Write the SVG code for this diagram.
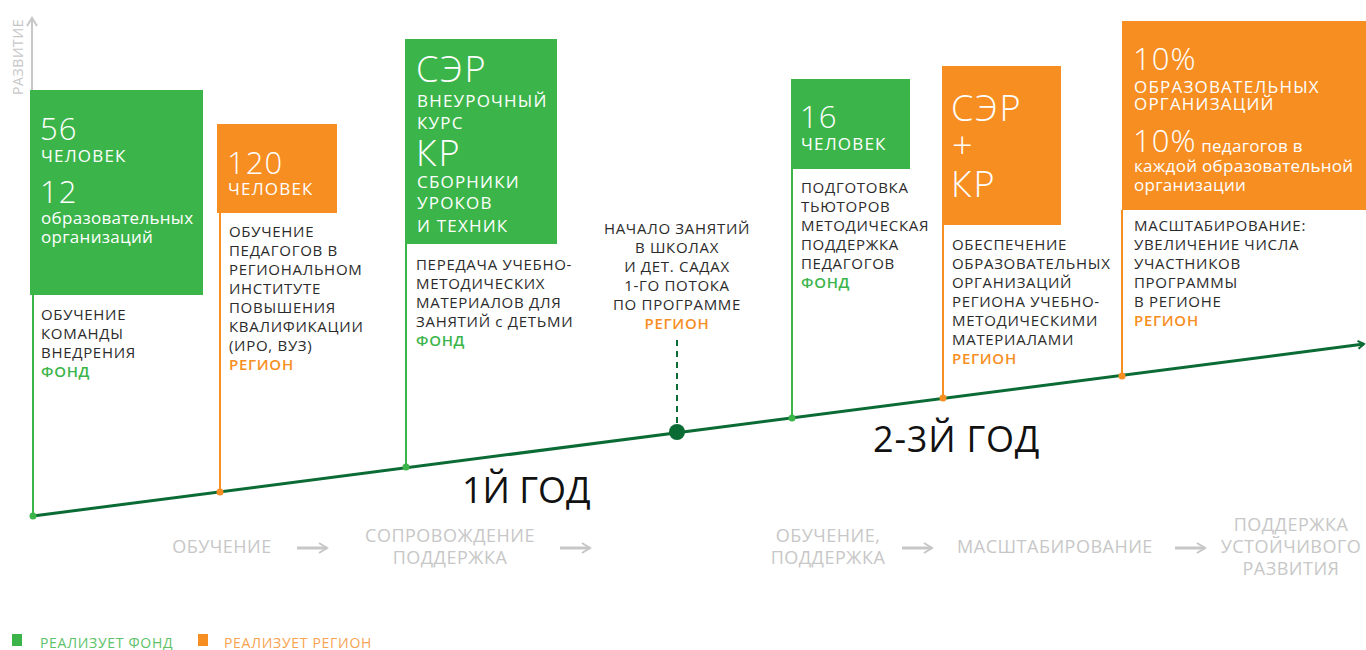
<svg xmlns="http://www.w3.org/2000/svg" width="1366" height="650" viewBox="0 0 1366 650">
<style>
text{font-family:"Open Sans","Noto Sans",sans-serif;}
.w{fill:#ffffff;}
.big{font-size:31px;font-weight:300;letter-spacing:1px;}
.huge{font-size:36px;font-weight:300;letter-spacing:2px;}
.mid{font-size:17px;font-weight:400;letter-spacing:0.3px;}
.mu{font-size:17px;font-weight:400;letter-spacing:1.2px;}
.d{fill:#2b2b2b;font-size:15px;font-weight:400;letter-spacing:0.7px;}
.fg{fill:#3bb54a;font-size:15px;font-weight:600;letter-spacing:0.7px;}
.fo{fill:#f68e22;font-size:15px;font-weight:600;letter-spacing:0.7px;}
.g{fill:#c7c7c7;font-size:18px;font-weight:400;letter-spacing:0.5px;}
.yr{fill:#111111;font-size:36px;font-weight:400;}
.gr{fill:#3bb54a;}
.or{fill:#f68e22;}
.lg{stroke:#3bb54a;stroke-width:2;}
.lo{stroke:#f68e22;stroke-width:2;}
</style>
<defs>
<marker id="ah" markerWidth="10" markerHeight="10" refX="7" refY="5" orient="auto" markerUnits="userSpaceOnUse">
<path d="M1,1 L7,5 L1,9" fill="none" stroke="#0b6b35" stroke-width="2"/>
</marker>
<marker id="ga" markerWidth="12" markerHeight="12" refX="9" refY="6" orient="auto" markerUnits="userSpaceOnUse">
<path d="M1,1 L9,6 L1,11" fill="none" stroke="#c7c7c7" stroke-width="2"/>
</marker>
</defs>

<g id="axis">
<line x1="32" y1="92" x2="32" y2="18" stroke="#c7c7c7" stroke-width="2" marker-end="url(#ga)"/>
<text transform="translate(23,95) rotate(-90)" fill="#c7c7c7" font-size="14" letter-spacing="0.6">РАЗВИТИЕ</text>
</g>

<g id="connectors">
<line x1="33" y1="516" x2="1364" y2="344" stroke="#0b6b35" stroke-width="3" marker-end="url(#ah)"/>
<line class="lg" x1="33" y1="295" x2="33" y2="516"/>
<line class="lo" x1="220" y1="213" x2="220" y2="492"/>
<line class="lg" x1="406" y1="244" x2="406" y2="467"/>
<line x1="677" y1="340" x2="677" y2="430" stroke="#0b6b35" stroke-width="2" stroke-dasharray="6,5"/>
<line class="lg" x1="792" y1="169" x2="792" y2="418"/>
<line class="lo" x1="943" y1="225" x2="943" y2="398"/>
<line class="lo" x1="1122" y1="210" x2="1122" y2="376"/>
<circle cx="33" cy="516" r="3.5" class="gr"/>
<circle cx="220" cy="492" r="3.5" class="or"/>
<circle cx="406" cy="467" r="3.5" class="gr"/>
<circle cx="677" cy="432" r="8" fill="#0b6b35"/>
<circle cx="792" cy="418" r="3.5" class="gr"/>
<circle cx="943" cy="398" r="3.5" class="or"/>
<circle cx="1122" cy="376" r="3.5" class="or"/>
</g>

<g id="node1">
<rect x="30" y="90" width="173" height="205" class="gr"/>
<text x="40" y="140" class="w big">56</text>
<text x="41" y="162" class="w mu">ЧЕЛОВЕК</text>
<text x="40" y="203" class="w big">12</text>
<text x="41" y="224" class="w mid">образовательных</text>
<text x="41" y="243" class="w mid">организаций</text>
<text x="41" y="320" class="d">ОБУЧЕНИЕ</text>
<text x="41" y="339" class="d">КОМАНДЫ</text>
<text x="41" y="358" class="d">ВНЕДРЕНИЯ</text>
<text x="41" y="377" class="fg">ФОНД</text>
</g>

<g id="node2">
<rect x="217" y="124" width="120" height="89" class="or"/>
<text x="227" y="174" class="w big">120</text>
<text x="228" y="195" class="w mu">ЧЕЛОВЕК</text>
<text x="229" y="237" class="d">ОБУЧЕНИЕ</text>
<text x="229" y="256" class="d">ПЕДАГОГОВ В</text>
<text x="229" y="275" class="d">РЕГИОНАЛЬНОМ</text>
<text x="229" y="294" class="d">ИНСТИТУТЕ</text>
<text x="229" y="313" class="d">ПОВЫШЕНИЯ</text>
<text x="229" y="332" class="d">КВАЛИФИКАЦИИ</text>
<text x="229" y="351" class="d">(ИРО, ВУЗ)</text>
<text x="229" y="370" class="fo">РЕГИОН</text>
</g>

<g id="node3">
<rect x="405" y="39" width="152" height="205" class="gr"/>
<text x="416" y="82" class="w huge">СЭР</text>
<text x="417" y="107" class="w mu">ВНЕУРОЧНЫЙ</text>
<text x="417" y="129" class="w mu">КУРС</text>
<text x="416" y="166" class="w huge">КР</text>
<text x="417" y="188" class="w mu">СБОРНИКИ</text>
<text x="417" y="209" class="w mu">УРОКОВ</text>
<text x="417" y="232" class="w mu">И ТЕХНИК</text>
<text x="416" y="270" class="d">ПЕРЕДАЧА УЧЕБНО-</text>
<text x="416" y="289" class="d">МЕТОДИЧЕСКИХ</text>
<text x="416" y="308" class="d">МАТЕРИАЛОВ ДЛЯ</text>
<text x="416" y="327" class="d">ЗАНЯТИЙ с ДЕТЬМИ</text>
<text x="416" y="346" class="fg">ФОНД</text>
</g>

<g id="milestone" text-anchor="middle">
<text x="677" y="234" class="d">НАЧАЛО ЗАНЯТИЙ</text>
<text x="677" y="253" class="d">В ШКОЛАХ</text>
<text x="677" y="272" class="d">И ДЕТ. САДАХ</text>
<text x="677" y="291" class="d">1-ГО ПОТОКА</text>
<text x="677" y="310" class="d">ПО ПРОГРАММЕ</text>
<text x="677" y="329" class="fo">РЕГИОН</text>
</g>

<g id="node4">
<rect x="791" y="79" width="119" height="90" class="gr"/>
<text x="800" y="128" class="w big">16</text>
<text x="801" y="150" class="w mu">ЧЕЛОВЕК</text>
<text x="801" y="193" class="d">ПОДГОТОВКА</text>
<text x="801" y="212" class="d">ТЬЮТОРОВ</text>
<text x="801" y="231" class="d">МЕТОДИЧЕСКАЯ</text>
<text x="801" y="250" class="d">ПОДДЕРЖКА</text>
<text x="801" y="269" class="d">ПЕДАГОГОВ</text>
<text x="801" y="288" class="fg">ФОНД</text>
</g>

<g id="node5">
<rect x="942" y="66" width="119" height="159" class="or"/>
<text x="951" y="121" class="w huge">СЭР</text>
<text x="952" y="158" class="w huge">+</text>
<text x="951" y="197" class="w huge">КР</text>
<text x="952" y="250" class="d">ОБЕСПЕЧЕНИЕ</text>
<text x="952" y="269" class="d">ОБРАЗОВАТЕЛЬНЫХ</text>
<text x="952" y="288" class="d">ОРГАНИЗАЦИЙ</text>
<text x="952" y="307" class="d">РЕГИОНА УЧЕБНО-</text>
<text x="952" y="326" class="d">МЕТОДИЧЕСКИМИ</text>
<text x="952" y="345" class="d">МАТЕРИАЛАМИ</text>
<text x="952" y="364" class="fo">РЕГИОН</text>
</g>

<g id="node6">
<rect x="1122" y="21" width="244" height="189" class="or"/>
<text x="1133" y="70" class="w big">10%</text>
<text x="1134" y="93" class="w mu">ОБРАЗОВАТЕЛЬНЫХ</text>
<text x="1134" y="110" class="w mu">ОРГАНИЗАЦИЙ</text>
<text x="1133" y="152" class="w"><tspan class="big">10%</tspan><tspan class="mid" letter-spacing="0.6"> педагогов в</tspan></text>
<text x="1134" y="172" class="w mid" letter-spacing="0.6">каждой образовательной</text>
<text x="1134" y="191" class="w mid" letter-spacing="0.6">организации</text>
<text x="1134" y="231" class="d">МАСШТАБИРОВАНИЕ:</text>
<text x="1134" y="250" class="d">УВЕЛИЧЕНИЕ ЧИСЛА</text>
<text x="1134" y="269" class="d">УЧАСТНИКОВ</text>
<text x="1134" y="288" class="d">ПРОГРАММЫ</text>
<text x="1134" y="307" class="d">В РЕГИОНЕ</text>
<text x="1134" y="326" class="fo">РЕГИОН</text>
</g>

<g id="years">
<text x="462" y="503" class="yr">1Й ГОД</text>
<text x="873" y="452" class="yr" letter-spacing="0.8">2-3Й ГОД</text>
</g>

<g id="phases" text-anchor="middle">
<text x="222" y="553" class="g">ОБУЧЕНИЕ</text>
<line x1="297" y1="548" x2="327" y2="548" stroke="#c7c7c7" stroke-width="3" marker-end="url(#ga)"/>
<text x="450" y="542" class="g">СОПРОВОЖДЕНИЕ</text>
<text x="450" y="564" class="g">ПОДДЕРЖКА</text>
<line x1="560" y1="548" x2="590" y2="548" stroke="#c7c7c7" stroke-width="3" marker-end="url(#ga)"/>
<text x="828" y="542" class="g">ОБУЧЕНИЕ,</text>
<text x="828" y="564" class="g">ПОДДЕРЖКА</text>
<line x1="902" y1="548" x2="932" y2="548" stroke="#c7c7c7" stroke-width="3" marker-end="url(#ga)"/>
<text x="1055" y="553" class="g">МАСШТАБИРОВАНИЕ</text>
<line x1="1175" y1="548" x2="1205" y2="548" stroke="#c7c7c7" stroke-width="3" marker-end="url(#ga)"/>
<text x="1291" y="531" class="g">ПОДДЕРЖКА</text>
<text x="1291" y="553" class="g">УСТОЙЧИВОГО</text>
<text x="1291" y="575" class="g">РАЗВИТИЯ</text>
</g>

<g id="legend">
<rect x="12" y="634" width="10" height="12" class="gr"/>
<text x="40" y="648" fill="#5cc267" font-size="14" letter-spacing="0.7">РЕАЛИЗУЕТ ФОНД</text>
<rect x="198" y="634" width="10" height="12" class="or"/>
<text x="224" y="648" fill="#f7a350" font-size="14" letter-spacing="0.7">РЕАЛИЗУЕТ РЕГИОН</text>
</g>
</svg>
